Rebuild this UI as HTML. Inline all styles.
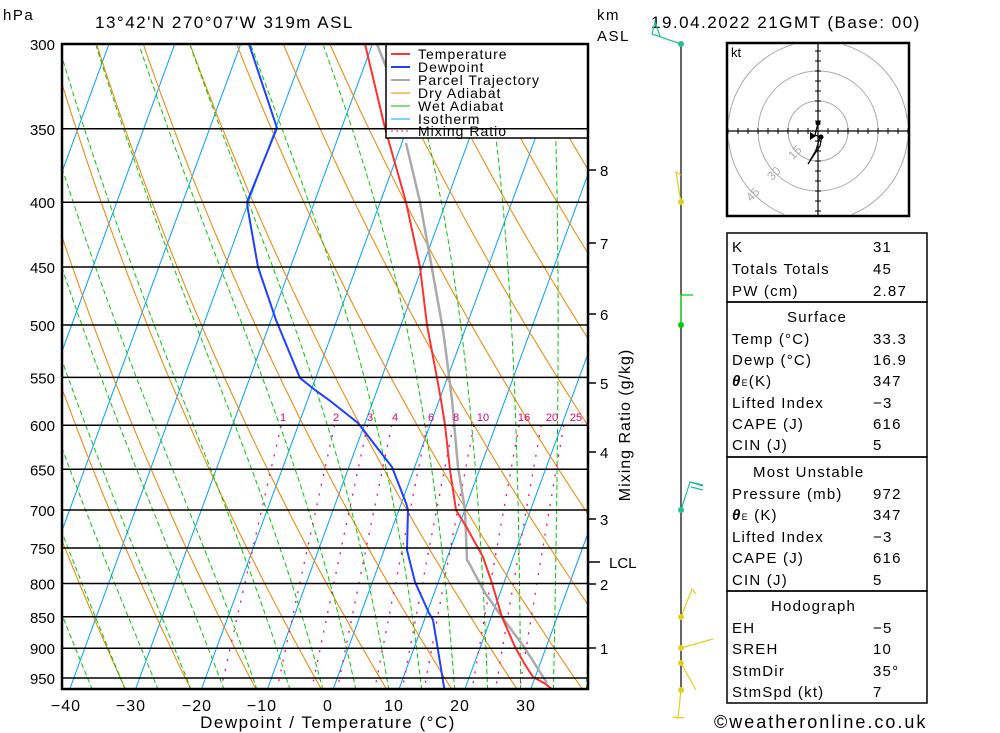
<!DOCTYPE html>
<html><head><meta charset="utf-8"><style>
body{margin:0;background:#fff;width:1000px;height:733px;overflow:hidden}
svg{display:block}
text{font-family:"Liberation Sans",sans-serif;fill:#000}
</style></head><body>
<svg id="s" width="1000" height="733" viewBox="0 0 1000 733" xmlns="http://www.w3.org/2000/svg">
<defs><clipPath id="cp"><rect x="62" y="44" width="526" height="645"/></clipPath></defs>
<g id="bg" clip-path="url(#cp)"></g>
<g id="prof" clip-path="url(#cp)"></g>
<!-- legend -->
<rect x="386" y="44" width="202" height="94" fill="#fff" stroke="#000" stroke-width="1.5"/>
<g font-size="14" letter-spacing="1">
<line x1="391" y1="54" x2="410" y2="54" stroke="#ff3030" stroke-width="2"/><text x="418" y="59">Temperature</text>
<line x1="391" y1="67" x2="410" y2="67" stroke="#2040ff" stroke-width="2"/><text x="418" y="72">Dewpoint</text>
<line x1="391" y1="80" x2="410" y2="80" stroke="#aaa" stroke-width="2"/><text x="418" y="85">Parcel Trajectory</text>
<line x1="391" y1="93" x2="410" y2="93" stroke="#f08000" stroke-width="1"/><text x="418" y="98">Dry Adiabat</text>
<line x1="391" y1="106" x2="410" y2="106" stroke="#00c000" stroke-width="1"/><text x="418" y="111">Wet Adiabat</text>
<line x1="391" y1="119" x2="410" y2="119" stroke="#00a0ff" stroke-width="1"/><text x="418" y="124">Isotherm</text>
<line x1="391" y1="131" x2="410" y2="131" stroke="#ff0080" stroke-width="1" stroke-dasharray="2,3"/><text x="418" y="136">Mixing Ratio</text>
</g>
<rect x="62" y="44" width="526" height="645" fill="none" stroke="#000" stroke-width="2.5"/>
<g id="plines"></g>
<!-- titles -->
<g font-size="17" letter-spacing="1.5">
<text x="3" y="20" font-size="15">hPa</text>
<text x="95" y="28">13°42'N  270°07'W  319m  ASL</text>
<text x="597" y="20" font-size="15">km</text>
<text x="597" y="41" font-size="15">ASL</text>
<text x="651" y="28">19.04.2022  21GMT  (Base: 00)</text>
</g>
<g font-size="15" text-anchor="end" id="plabels"></g>
<g font-size="16" text-anchor="middle" letter-spacing="1">
<text x="66" y="711">−40</text><text x="131" y="711">−30</text><text x="197" y="711">−20</text><text x="262" y="711">−10</text><text x="328" y="711">0</text><text x="394" y="711">10</text><text x="460" y="711">20</text><text x="526" y="711">30</text>
<text x="328" y="728" font-size="17" letter-spacing="1.5">Dewpoint / Temperature (°C)</text>
</g>
<!-- km axis -->
<g stroke="#000" stroke-width="1.5">
<line x1="588" y1="170" x2="596" y2="170"/><line x1="588" y1="243" x2="596" y2="243"/><line x1="588" y1="314" x2="596" y2="314"/><line x1="588" y1="383" x2="596" y2="383"/><line x1="588" y1="452" x2="596" y2="452"/><line x1="588" y1="519" x2="596" y2="519"/><line x1="588" y1="584" x2="596" y2="584"/><line x1="588" y1="648" x2="596" y2="648"/><line x1="588" y1="562" x2="600" y2="562"/>
</g>
<g font-size="15">
<text x="600" y="176">8</text><text x="600" y="249">7</text><text x="600" y="320">6</text><text x="600" y="389">5</text><text x="600" y="458">4</text><text x="600" y="525">3</text><text x="600" y="590">2</text><text x="600" y="654">1</text><text x="609" y="568">LCL</text>
<text transform="translate(630,425) rotate(-90)" text-anchor="middle" font-size="16" letter-spacing="1">Mixing Ratio (g/kg)</text>
</g>
<!-- mixing ratio labels -->
<g font-size="11" text-anchor="middle">
<text x="283" y="421" style="fill:#e0007a">1</text><text x="336" y="421" style="fill:#e0007a">2</text><text x="370" y="421" style="fill:#e0007a">3</text><text x="395" y="421" style="fill:#e0007a">4</text><text x="431" y="421" style="fill:#e0007a">6</text><text x="456" y="421" style="fill:#e0007a">8</text><text x="483" y="421" style="fill:#e0007a">10</text><text x="524" y="421" style="fill:#e0007a">16</text><text x="552" y="421" style="fill:#e0007a">20</text><text x="576" y="421" style="fill:#e0007a">25</text>
</g>
<!-- wind column -->
<line x1="681" y1="44" x2="681" y2="690" stroke="#000" stroke-width="1.2"/>
<g stroke-width="1.2" fill="none">
<polyline points="681,44 652,34 655,22 660,36" stroke="#20c090"/>
<polyline points="681,202 676,172 681,175" stroke="#e0d020"/>
<polyline points="681,325 681,295 693,295" stroke="#00d000"/>
<polyline points="681,510 690,482 703,485" stroke="#20c090"/>
<polyline points="690,482 703,486" stroke="#20c090"/><polyline points="691,487 703,490" stroke="#20c090"/>
<polyline points="681,617 692,589 696,594" stroke="#e0d020"/>
<polyline points="681,648 713,639" stroke="#e0d020"/>
<polyline points="681,663 696,690" stroke="#e0d020"/>
<polyline points="681,690 678,718 673,717 684,718" stroke="#e0d020"/>
</g>
<g><circle cx="681" cy="44" r="3" fill="#20c090"/><circle cx="681" cy="202" r="3" fill="#e0d020"/><circle cx="681" cy="325" r="3" fill="#00d000"/><circle cx="681" cy="510" r="3" fill="#20c090"/><circle cx="681" cy="617" r="3" fill="#e0d020"/><circle cx="681" cy="648" r="3" fill="#e0d020"/><circle cx="681" cy="663" r="3" fill="#e0d020"/><circle cx="681" cy="690" r="3" fill="#e0d020"/></g>
<!-- hodograph -->
<g>
<rect x="727" y="43" width="182" height="173" fill="#fff" stroke="#000" stroke-width="2.5"/>
<clipPath id="hc"><rect x="728" y="44" width="180" height="171"/></clipPath>
<g clip-path="url(#hc)">
<circle cx="818" cy="131" r="30" fill="none" stroke="#aaa"/><circle cx="818" cy="131" r="60" fill="none" stroke="#aaa"/><circle cx="818" cy="131" r="90" fill="none" stroke="#aaa"/>
</g>
<line x1="728" y1="131" x2="908" y2="131" stroke="#000" stroke-width="1.2"/><line x1="818" y1="44" x2="818" y2="215" stroke="#000" stroke-width="1.2"/>
<g id="hticks" stroke="#000"></g>
<text x="731" y="57" font-size="13">kt</text>
<g font-size="12"><text transform="translate(793,160) rotate(-45)" style="fill:#aaa">15</text><text transform="translate(772,181) rotate(-45)" style="fill:#aaa">30</text><text transform="translate(751,202) rotate(-45)" style="fill:#aaa">45</text></g>
<polyline points="818,123 815,135 820,137 816,150 808,164 820,146 822,136" fill="none" stroke="#000" stroke-width="1.2"/>
<circle cx="818" cy="123" r="2.5"/><path d="M810,132 L816,136 L810,140Z"/><circle cx="821" cy="137" r="2.5"/>
</g>
<!-- table -->
<g fill="none" stroke="#000" stroke-width="1.5">
<rect x="727" y="233" width="200" height="69"/><rect x="727" y="302" width="200" height="155"/><rect x="727" y="457" width="200" height="134"/><rect x="727" y="591" width="200" height="112"/>
</g>
<g font-size="15" letter-spacing="1.2">
<text x="732" y="252">K</text><text x="873" y="252">31</text>
<text x="732" y="274">Totals Totals</text><text x="873" y="274">45</text>
<text x="732" y="296">PW (cm)</text><text x="873" y="296">2.87</text>
<text x="787" y="322">Surface</text>
<text x="732" y="344">Temp (°C)</text><text x="873" y="344">33.3</text>
<text x="732" y="365">Dewp (°C)</text><text x="873" y="365">16.9</text>
<text x="732" y="386"><tspan font-weight="bold" font-style="italic">θ</tspan><tspan font-size="9">E</tspan>(K)</text><text x="873" y="386">347</text>
<text x="732" y="408">Lifted Index</text><text x="873" y="408">−3</text>
<text x="732" y="429">CAPE (J)</text><text x="873" y="429">616</text>
<text x="732" y="450">CIN (J)</text><text x="873" y="450">5</text>
<text x="753" y="477">Most Unstable</text>
<text x="732" y="499">Pressure (mb)</text><text x="873" y="499">972</text>
<text x="732" y="520"><tspan font-weight="bold" font-style="italic">θ</tspan><tspan font-size="9">E</tspan> (K)</text><text x="873" y="520">347</text>
<text x="732" y="542">Lifted Index</text><text x="873" y="542">−3</text>
<text x="732" y="563">CAPE (J)</text><text x="873" y="563">616</text>
<text x="732" y="585">CIN (J)</text><text x="873" y="585">5</text>
<text x="771" y="611">Hodograph</text>
<text x="732" y="633">EH</text><text x="873" y="633">−5</text>
<text x="732" y="654">SREH</text><text x="873" y="654">10</text>
<text x="732" y="676">StmDir</text><text x="873" y="676">35°</text>
<text x="732" y="697">StmSpd (kt)</text><text x="873" y="697">7</text>
<text x="714" y="728" font-size="18" letter-spacing="2">©weatheronline.co.uk</text>
</g>
</svg>
<script>
var NS="http://www.w3.org/2000/svg";
function Y(p){return 44+550*Math.log(p/300);}
function X(T,y){return 333.2+6.585*T+0.367*(689-y);}
function pl(g,pts,col,w,dash){var e=document.createElementNS(NS,"polyline");e.setAttribute("points",pts.map(function(a){return a[0].toFixed(1)+","+a[1].toFixed(1)}).join(" "));e.setAttribute("fill","none");e.setAttribute("stroke",col);e.setAttribute("stroke-width",w);if(dash)e.setAttribute("stroke-dasharray",dash);g.appendChild(e);}
var bg=document.getElementById("bg");
for(var T=-130;T<=50;T+=10){pl(bg,[[X(T,689),689],[X(T,44),44]],"#00a0ff",1);}
for(var th=-40;th<=220;th+=10){var pts=[];for(var p=300;p<=980;p+=10){var TK=(th+273.15)*Math.pow(p/1000,0.286)-273.15;var y=Y(p);pts.push([X(TK,y)+4,y]);}pl(bg,pts,"#f08000",1);}
function es(T){return 6.112*Math.exp(17.67*T/(T+243.5));}
for(var T0=-76.8;T0<=46;T0+=5){var pts=[];var T=T0,p=971;while(p>=300){var y=Y(p);pts.push([X(T,y)+2,y]);var TK=T+273.15;var e=es(T);var rs=0.622*e/(p-e);var Rd=287,cp=1005,Lv=2.5e6;var dTdp=(Rd*TK+Lv*rs)/(cp+Lv*Lv*rs*0.622/(Rd*TK*TK))/p;var dp=-5;T+=dTdp*dp;p+=dp;}pl(bg,pts,"#00c800",1,"5,3");}
[1,2,3,4,6,8,10,16,20,25].forEach(function(w){var pts=[];for(var p=600;p<=975;p+=15){var e=w*p/(622+w);var l=Math.log(e/6.112);var Td=243.5*l/(17.67-l);var y=Y(p);pts.push([X(Td,y)+3,y]);}pl(bg,pts,"#ff0080",1.3,"2,8");});
var plg=document.getElementById("plines"),lab=document.getElementById("plabels");
for(var p=300;p<=950;p+=50){var y=Y(p);pl(plg,[[62,y],[588,y]],"#000",1.5);var t=document.createElementNS(NS,"text");t.setAttribute("x","55");t.setAttribute("y",(y+6).toFixed(1));t.textContent=p;lab.appendChild(t);}
var pr=document.getElementById("prof");
pl(pr,[[377,44],[386,67]],"#aaa",2.5);
pl(pr,[[406,143],[420,202],[431,263],[443,330],[447,360],[452,400],[458,467],[465,510],[467,560],[469,563],[485,593],[502,617],[524,647],[547,683]],"#aaa",2.5);
pl(pr,[[249,44],[277,128],[247,202],[248,210],[258,267],[276,320],[300,378],[315,390],[329,400],[358,423],[392,467],[406,503],[408,510],[407,550],[415,582],[429,613],[433,620],[438,650],[444,687],[445,690]],"#2040ff",2);
pl(pr,[[365,44],[385,128],[406,202],[420,267],[427,325],[437,378],[441,400],[445,425],[450,470],[456,510],[467,528],[483,557],[492,583],[502,617],[515,647],[524,663],[533,677],[544,683],[552,689]],"#ff3030",2);
var ht=document.getElementById("hticks");
for(var i=-9;i<=9;i++){if(i==0)continue;var d=i*10;var l=document.createElementNS(NS,"line");l.setAttribute("x1",818+d);l.setAttribute("x2",818+d);l.setAttribute("y1",128);l.setAttribute("y2",134);ht.appendChild(l);if(Math.abs(d)<88){var m=document.createElementNS(NS,"line");m.setAttribute("y1",131+d);m.setAttribute("y2",131+d);m.setAttribute("x1",815);m.setAttribute("x2",821);ht.appendChild(m);}}
</script>
</body></html>
